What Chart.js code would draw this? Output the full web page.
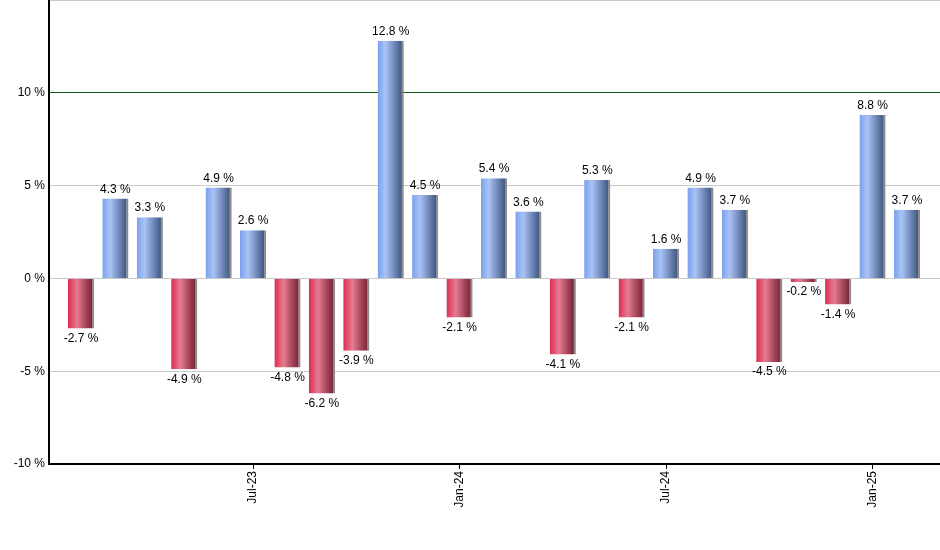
<!DOCTYPE html>
<html>
<head>
<meta charset="utf-8">
<script src="https://cdn.jsdelivr.net/npm/chart.js@4"></script>
<style>
  html, body { margin: 0; padding: 0; background: #fff; }
  #wrap { width: 940px; height: 550px; }
</style>
</head>
<body>
<div id="wrap"><canvas id="mychart"></canvas></div>
<script>
// monthly returns, Feb-23 .. Feb-25
var months = ["Feb-23","Mar-23","Apr-23","May-23","Jun-23","Jul-23","Aug-23","Sep-23","Oct-23","Nov-23","Dec-23",
  "Jan-24","Feb-24","Mar-24","Apr-24","May-24","Jun-24","Jul-24","Aug-24","Sep-24","Oct-24","Nov-24","Dec-24",
  "Jan-25","Feb-25"];
var returns = [-2.7, 4.3, 3.3, -4.9, 4.9, 2.6, -4.8, -6.2, -3.9, 12.8, 4.5,
  -2.1, 5.4, 3.6, -4.1, 5.3, -2.1, 1.6, 4.9, 3.7, -4.5, -0.2, -1.4,
  8.8, 3.7];
var tickMonths = ["Jul-23", "Jan-24", "Jul-24", "Jan-25"];

var points = [];
for (var i = 0; i < returns.length; i++) {
  points.push({x: i, y: returns[i]});
}

var BAR_PCT = 0.76;

// horizontal "cylinder" gradient per bar
function barGradient(c) {
  var up = returns[c.dataIndex] >= 0;
  var flat = up ? '#7aa0ee' : '#dc2c52';
  var xs = c.chart.scales.x;
  if (!xs || c.dataIndex === undefined) return flat;
  var step = Math.abs(xs.getPixelForValue(1) - xs.getPixelForValue(0));
  var cx = xs.getPixelForValue(c.dataIndex);
  var w = step * BAR_PCT;
  if (!isFinite(cx) || !isFinite(w) || w <= 0) return flat;
  var g = c.chart.ctx.createLinearGradient(cx - w / 2, 0, cx + w / 2, 0);
  if (up) {
    g.addColorStop(0, '#7aa0ee');
    g.addColorStop(0.3, '#a9c3f5');
    g.addColorStop(0.65, '#6f87b6');
    g.addColorStop(1, '#344a72');
  } else {
    g.addColorStop(0, '#dc2c52');
    g.addColorStop(0.35, '#e57c91');
    g.addColorStop(0.7, '#a24459');
    g.addColorStop(1, '#6e1d2e');
  }
  return g;
}

// value labels above / below bars
var labelPlugin = {
  id: 'valueLabels',
  afterDatasetsDraw: function(chart) {
    var ctx = chart.ctx;
    var meta = chart.getDatasetMeta(0);
    ctx.save();
    ctx.font = '12px "Liberation Sans", Arial, sans-serif';
    ctx.fillStyle = '#000';
    ctx.textAlign = 'center';
    meta.data.forEach(function(bar, idx) {
      var v = returns[idx];
      var txt = v.toFixed(1) + ' %';
      if (v >= 0) {
        ctx.textBaseline = 'bottom';
        ctx.fillText(txt, bar.x, bar.y - 3);
      } else {
        ctx.textBaseline = 'top';
        ctx.fillText(txt, bar.x, bar.y + 4);
      }
    });
    ctx.restore();
  }
};

var ctx = document.getElementById("mychart");
var myBarChart = new Chart(ctx, {
  type: 'bar',
  data: {
    datasets: [{
      data: points,
      backgroundColor: barGradient,
      borderColor: '#8c8c8c',
      borderWidth: {left: 0, top: 0, bottom: 0, right: 2},
      borderSkipped: false,
      categoryPercentage: 1,
      barPercentage: BAR_PCT
    }]
  },
  options: {
    responsive: true,
    maintainAspectRatio: false,
    animation: false,
    layout: {padding: 0},
    plugins: {
      legend: {display: false},
      tooltip: {enabled: false}
    },
    scales: {
      x: {
        type: 'linear',
        offset: false,
        min: -0.93,
        max: 24.96,
        afterBuildTicks: function(scale) {
          scale.ticks = tickMonths.map(function(m) { return {value: months.indexOf(m)}; });
        },
        afterFit: function(scale) {
          scale.height = 86;
          scale.paddingLeft = 0;
          scale.paddingRight = 0;
        },
        ticks: {
          autoSkip: false,
          minRotation: 90,
          maxRotation: 90,
          padding: 2,
          color: '#000',
          font: {family: '"Liberation Sans", Arial, sans-serif', size: 12},
          callback: function(value) { return months[value]; }
        },
        grid: {offset: false, drawOnChartArea: false, drawTicks: true, tickLength: 5, color: '#000'},
        border: {color: '#000', width: 2}
      },
      y: {
        min: -10,
        max: 15,
        afterFit: function(scale) {
          scale.width = 49;
          scale.paddingTop = 0;
          scale.paddingBottom = 0;
        },
        ticks: {
          stepSize: 5,
          padding: 4,
          color: '#000',
          font: {family: '"Liberation Sans", Arial, sans-serif', size: 12},
          callback: function(value) { return value === 15 ? '' : value + ' %'; }
        },
        grid: {
          drawTicks: false,
          color: function(c) { return c.tick && c.tick.value === 10 ? '#0c5a0c' : '#c8c8c8'; },
          lineWidth: 1
        },
        border: {color: '#000', width: 2}
      }
    }
  },
  plugins: [labelPlugin]
});
</script>
</body>
</html>
